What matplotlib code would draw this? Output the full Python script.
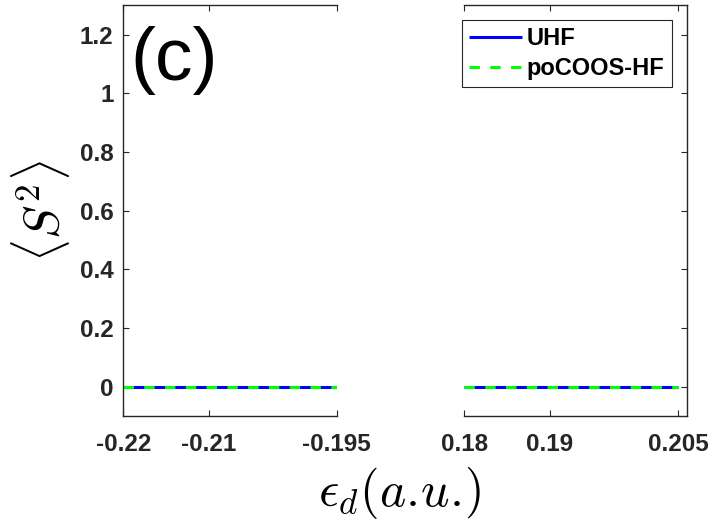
import matplotlib
matplotlib.use("Agg")
import matplotlib.pyplot as plt

plt.rcParams['mathtext.fontset'] = 'cm'
plt.rcParams['font.family'] = ['Liberation Sans', 'DejaVu Sans']

# data
eps_left = [-0.22, -0.215, -0.21, -0.205, -0.2, -0.195]
s2_uhf_left = [0, 0, 0, 0, 0, 0]
s2_coos_left = [0, 0, 0, 0, 0, 0]
eps_right = [0.18, 0.185, 0.19, 0.195, 0.2, 0.205]
s2_uhf_right = [0, 0, 0, 0, 0, 0]
s2_coos_right = [0, 0, 0, 0, 0, 0]

xticks_left = [-0.22, -0.21, -0.195]
xticks_right = [0.18, 0.19, 0.205]
yticks = [0, 0.2, 0.4, 0.6, 0.8, 1.0, 1.2]
ytick_labels = ['0', '0.2', '0.4', '0.6', '0.8', '1', '1.2']

fig = plt.figure(figsize=(7.14, 5.22), dpi=100)
W, H = 714, 522
ax1 = fig.add_axes([123.3 / W, 1 - 416 / H, 213.4 / W, 410.7 / H])
ax2 = fig.add_axes([464.3 / W, 1 - 416 / H, 222.4 / W, 410.7 / H])

for ax, x, yu, yc in [(ax1, eps_left, s2_uhf_left, s2_coos_left),
                      (ax2, eps_right, s2_uhf_right, s2_coos_right)]:
    ax.plot(x, yu, color=(0, 0, 1), lw=2.2, label='UHF', solid_capstyle='butt')
    ax.plot(x, yc, color=(0, 1, 0), lw=2.2, dashes=(3.4, 3.4), label='poCOOS-HF')
    ax.set_ylim(-0.1, 1.3)
    ax.set_yticks(yticks)
    for s in ax.spines.values():
        s.set_color('#262626')
        s.set_linewidth(1.0)
    ax.tick_params(direction='in', length=4.5, width=0.8, colors='#262626',
                   labelsize=17.5, top=True, pad=12)

ax1.set_xlim(-0.22, -0.195)
ax1.set_xticks(xticks_left)
ax1.set_xticklabels(['-0.22', '-0.21', '-0.195'], fontweight='bold')
ax1.set_yticklabels(ytick_labels, fontweight='bold')
ax1.tick_params(axis='y', pad=7)
ax1.spines['right'].set_visible(False)

ax2.set_xlim(0.18, 0.206)
ax2.set_xticks(xticks_right)
ax2.set_xticklabels(['0.18', '0.19', '0.205'], fontweight='bold')
ax2.spines['left'].set_visible(False)
ax2.tick_params(axis='y', left=False, right=True, labelleft=False)

ax1.text(0.034, 0.818, '(c)', transform=ax1.transAxes, fontsize=54,
         family='Liberation Sans', va='baseline', ha='left')

fig.text(400 / W, 1 - 493 / H, r'$\epsilon_d(a.\!u.\!)$', fontsize=36,
         ha='center', va='center')
fig.text(40 / W, 1 - 211 / H, r'$\langle S^2\rangle$', fontsize=36,
         rotation=90, ha='center', va='center')

h, l = ax2.get_legend_handles_labels()
leg = fig.legend(h, l, loc='upper right', bbox_to_anchor=(671.7 / W, 1 - 20 / H),
                 prop={'weight': 'bold', 'size': 17}, fancybox=False,
                 framealpha=1, edgecolor='#262626', handlelength=2.25,
                 handletextpad=0.2, borderaxespad=0, borderpad=0.3,
                 labelspacing=0.3, handleheight=0.6)
leg.get_frame().set_linewidth(0.8)

fig.savefig('out.png', dpi=100)
